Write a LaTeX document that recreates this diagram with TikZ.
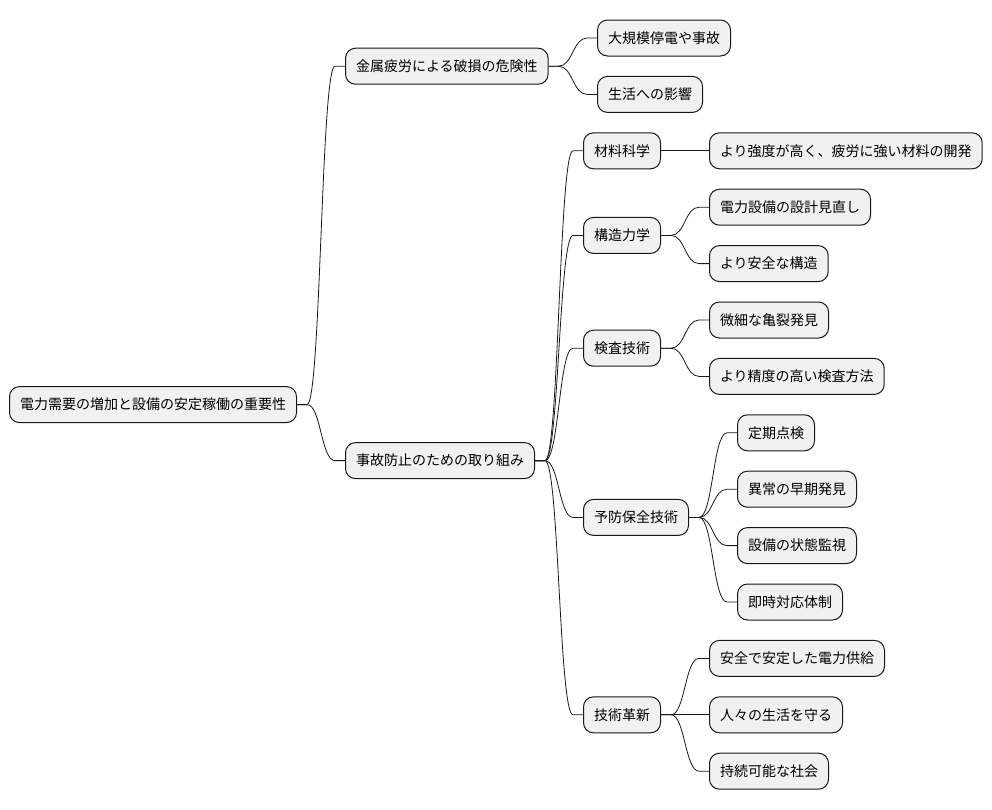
\documentclass[tikz,border=0pt]{standalone}
\usepackage{fontspec}
\setmainfont{Noto Sans CJK JP}
\usepackage{tikz}
\usetikzlibrary{calc}
\definecolor{boxfill}{HTML}{F1F1F1}
\definecolor{ink}{HTML}{181818}

\begin{document}
\begin{tikzpicture}[x=1pt,y=-1pt,
    topic/.style={draw=ink,fill=boxfill,line width=1pt,rounded corners=10pt,
      minimum height=36pt,inner xsep=10.5pt,anchor=west,
      font=\fontsize{14pt}{16pt}\selectfont},
    twig/.style={to path={-- ++(10,0) .. controls +(14,0) and +(-14,0) .. ([xshift=-10pt]\tikztotarget) -- (\tikztotarget)}}]
          \useasboundingbox (0,0) rectangle (992,809);
          \node[topic] (root) at (9,404.6) {電力需要の増加と設備の安定稼働の重要性};
          \node[topic] (risk) at (345,66.2) {金属疲労による破損の危険性};
          \node[topic] (effort) at (345,460.6) {事故防止のための取り組み};
          \node[topic] (blackout) at (597,38) {大規模停電や事故};
          \node[topic] (life) at (597,94.4) {生活への影響};
          \node[topic] (material) at (583,150.8) {材料科学};
          \node[topic] (matdev) at (709,150.8) {より強度が高く、疲労に強い材料の開発};
          \node[topic] (structure) at (583,235.4) {構造力学};
          \node[topic] (redesign) at (709,207.2) {電力設備の設計見直し};
          \node[topic] (safer) at (709,263.6) {より安全な構造};
          \node[topic] (inspect) at (583,348.2) {検査技術};
          \node[topic] (crack) at (709,320) {微細な亀裂発見};
          \node[topic] (precise) at (709,376.4) {より精度の高い検査方法};
          \node[topic] (maint) at (583,517.4) {予防保全技術};
          \node[topic] (periodic) at (737,432.8) {定期点検};
          \node[topic] (early) at (737,489.2) {異常の早期発見};
          \node[topic] (monitor) at (737,545.6) {設備の状態監視};
          \node[topic] (response) at (737,602) {即時対応体制};
          \node[topic] (innov) at (583,714.8) {技術革新};
          \node[topic] (supply) at (709,658.4) {安全で安定した電力供給};
          \node[topic] (protect) at (709,714.8) {人々の生活を守る};
          \node[topic] (society) at (709,771.2) {持続可能な社会};
          \draw[ink,line width=0.8pt] (root.east) to[twig] (risk.west);
          \draw[ink,line width=0.8pt] (root.east) to[twig] (effort.west);
          \draw[ink,line width=0.8pt] (risk.east) to[twig] (blackout.west);
          \draw[ink,line width=0.8pt] (risk.east) to[twig] (life.west);
          \draw[ink,line width=0.8pt] (effort.east) to[twig] (material.west);
          \draw[ink,line width=0.8pt] (effort.east) to[twig] (structure.west);
          \draw[ink,line width=0.8pt] (effort.east) to[twig] (inspect.west);
          \draw[ink,line width=0.8pt] (effort.east) to[twig] (maint.west);
          \draw[ink,line width=0.8pt] (effort.east) to[twig] (innov.west);
          \draw[ink,line width=0.8pt] (material.east) to[twig] (matdev.west);
          \draw[ink,line width=0.8pt] (structure.east) to[twig] (redesign.west);
          \draw[ink,line width=0.8pt] (structure.east) to[twig] (safer.west);
          \draw[ink,line width=0.8pt] (inspect.east) to[twig] (crack.west);
          \draw[ink,line width=0.8pt] (inspect.east) to[twig] (precise.west);
          \draw[ink,line width=0.8pt] (maint.east) to[twig] (periodic.west);
          \draw[ink,line width=0.8pt] (maint.east) to[twig] (early.west);
          \draw[ink,line width=0.8pt] (maint.east) to[twig] (monitor.west);
          \draw[ink,line width=0.8pt] (maint.east) to[twig] (response.west);
          \draw[ink,line width=0.8pt] (innov.east) to[twig] (supply.west);
          \draw[ink,line width=0.8pt] (innov.east) to[twig] (protect.west);
          \draw[ink,line width=0.8pt] (innov.east) to[twig] (society.west);
        \end{tikzpicture}
\end{document}
